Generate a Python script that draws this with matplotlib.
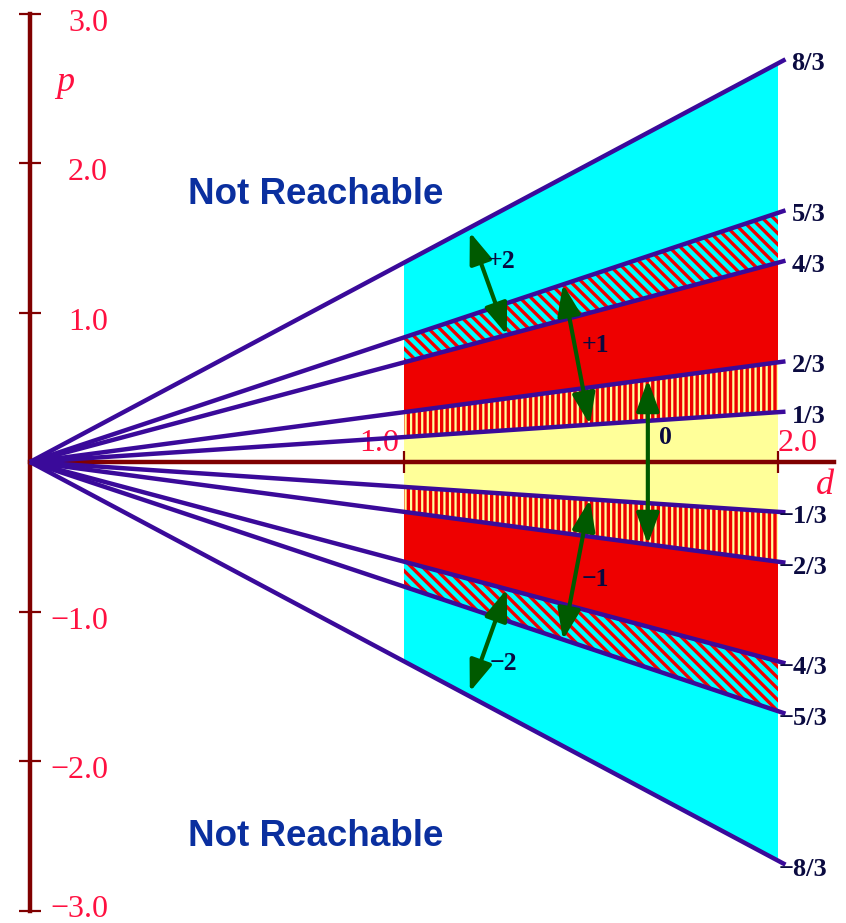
import numpy as np
import matplotlib
matplotlib.use('Agg')
import matplotlib.pyplot as plt

# layout of the picture: origin pixel and pixels per unit
X0, SX = 30, 374.0
Y0, SY = 462, 149.5
W, H = 846, 923

# boundary lines p = k*d, labelled by their value at d = 2
slopes = [4/3, 5/6, 2/3, 1/3, 1/6, -1/6, -1/3, -2/3, -5/6, -4/3]
lineLabels = ['8/3', '5/3', '4/3', '2/3', '1/3', '−1/3', '−2/3', '−4/3', '−5/3', '−8/3']
dEnd = 2.02

# bands filled between d = 1 and d = 2 (slopes of lower / upper edge)
bandLower = [-4/3, 2/3, 1/3, 1/6, -1/6, -1/3, -2/3, -5/6]
bandUpper = [4/3, 5/6, 2/3, 1/3, 1/6, -1/6, -1/3, -2/3]
bandFace = ['#00ffff', '#00ffff', '#ee0000', '#ffff99', '#ffff99', '#ffff99', '#ee0000', '#00ffff']
bandHatch = [None, '\\\\\\', None, '|||', None, '|||', None, '\\\\\\']

# double arrows (start / end in d, p) and their labels
arrowStart = [(1.176, 1.538), (1.425, 1.19), (1.652, 0.55), (1.497, -0.25), (1.275, -0.85)]
arrowEnd = [(1.275, 0.85), (1.497, 0.25), (1.652, -0.55), (1.425, -1.19), (1.176, -1.538)]
arrowText = ['+2', '+1', '0', '−1', '−2']
arrowTextD = [1.262, 1.511, 1.698, 1.513, 1.265]
arrowTextP = [1.338, 0.776, 0.161, -0.789, -1.351]

# axis ticks
yTickVals = [3, 2, 1, -1, -2, -3]
yTickText = ['3.0', '2.0', '1.0', '−1.0', '−2.0', '−3.0']
xTickVals = [1, 2]
xTickText = ['1.0', '2.0']
xTickAlign = ['right', 'left']

axisColor = '#800000'
tickTextColor = '#ff1040'
lineColor = '#3a0a9a'
arrowColor = '#005a00'
labelColor = '#0a0a40'
serif = 'Liberation Serif'

plt.rcParams['hatch.linewidth'] = 2.4
plt.rcParams['hatch.color'] = '#ee0000'

fig = plt.figure(figsize=(W / 100, H / 100), dpi=100)
ax = fig.add_axes([0, 0, 1, 1])
ax.set_xlim(-X0 / SX, (W - X0) / SX)
ax.set_ylim((Y0 - H) / SY, Y0 / SY)
ax.patch.set_alpha(0)

# coloured bands
dFill = np.array([1.0, 2.0])
for lo, hi, fc, hatch in zip(bandLower, bandUpper, bandFace, bandHatch):
    if hatch is None:
        ax.fill_between(dFill, lo * dFill, hi * dFill, facecolor=fc, linewidth=0, zorder=1)
    else:
        ax.fill_between(dFill, lo * dFill, hi * dFill, facecolor=fc, edgecolor='#ee0000',
                        hatch=hatch, linewidth=0, zorder=1)

# axes as spines through the origin
for side in ['top', 'right']:
    ax.spines[side].set_visible(False)
ax.spines['left'].set_position(('data', 0))
ax.spines['bottom'].set_position(('data', 0))
ax.spines['left'].set_bounds(-3, 3)
ax.spines['bottom'].set_bounds(0, 2.15)
for side in ['left', 'bottom']:
    ax.spines[side].set_color(axisColor)
    ax.spines[side].set_linewidth(3.2)
    ax.spines[side].set_zorder(2)
ax.set_xticks(xTickVals)
ax.set_yticks(yTickVals)
ax.tick_params(axis='both', direction='inout', length=15.5, width=1.6, color=axisColor,
               labelleft=False, labelbottom=False)

for v, s in zip(yTickVals, yTickText):
    ax.text(0.2086, max(v - 0.115, -3.043), s, ha='right', va='baseline',
            fontsize=23, family=serif, color=tickTextColor)
for v, s, a in zip(xTickVals, xTickText, xTickAlign):
    ax.text(v - 0.012 if a == 'right' else v, 0.074, s, ha=a, va='baseline',
            fontsize=23, family=serif, color=tickTextColor)
ax.text(0.094, 2.54, 'p', ha='center', va='center', fontsize=26, family=serif,
        style='italic', color=tickTextColor)
ax.text(2.126, -0.154, 'd', ha='center', va='center', fontsize=26, family=serif,
        style='italic', color=tickTextColor)

# boundary lines and their labels
dLine = np.array([0.0, dEnd])
for k, lab in zip(slopes, lineLabels):
    ax.plot(dLine, k * dLine, color=lineColor, linewidth=3.2, solid_capstyle='butt', zorder=3)
    x = dEnd + 0.016 if k > 0 else dEnd - 0.019
    ax.text(x, k * dEnd - 0.03, lab, ha='left', va='center', fontsize=19,
            family=serif, fontweight='bold', color=labelColor)

# double arrows
for st, en in zip(arrowStart, arrowEnd):
    ax.annotate('', xy=en, xytext=st, zorder=5,
                arrowprops=dict(arrowstyle='<|-|>,head_length=1.9,head_width=0.7',
                                mutation_scale=10, lw=3, color=arrowColor,
                                shrinkA=0, shrinkB=0))
for s, d, p in zip(arrowText, arrowTextD, arrowTextP):
    ax.text(d, p, s, ha='center', va='center', fontsize=18.5, family=serif,
            fontweight='bold', color=labelColor, zorder=6)

# unreachable regions
for p in [1.786, -2.502]:
    ax.text(0.765, p, 'Not Reachable', ha='center', va='center', fontsize=26.5,
            family='Liberation Sans', fontweight='bold', color='#0a2f9f')

fig.savefig('out.png', dpi=100)
plt.close(fig)
